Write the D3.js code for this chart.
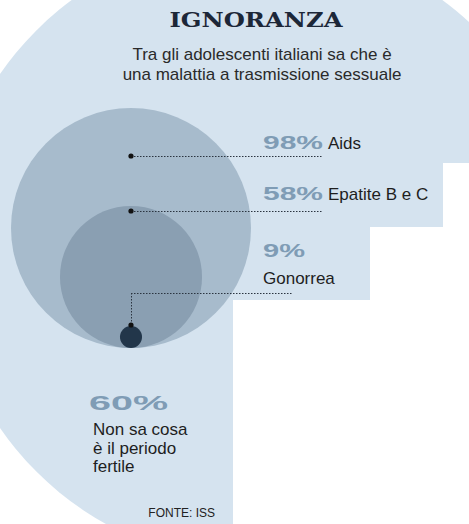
<!DOCTYPE html>
<html>
<head>
<meta charset="utf-8">
<script src="https://cdn.jsdelivr.net/npm/d3@7"></script>
<style>
  html, body { margin: 0; padding: 0; background: #fff; }
  svg { display: block; }
</style>
</head>
<body>
<div id="chart"></div>
<script>
const title = "IGNORANZA"
const subtitle = ["Tra gli adolescenti italiani sa che è", "una malattia a trasmissione sessuale"]
const diseases = ["Aids", "Epatite B e C", "Gonorrea"]
const shares = [98, 58, 9]
const fertileShare = 60
const fertileLabel = ["Non sa cosa", "è il periodo", "fertile"]
const source = "FONTE: ISS"

const width = 469, height = 524
const cx = 131, base = 348

const svg = d3.select("#chart").append("svg")
    .attr("width", width)
    .attr("height", height)

// pale backdrop, cut by the white label boxes on the right
svg.append("circle")
    .attr("cx", 257).attr("cy", 251).attr("r", 312)
    .attr("fill", "#d5e3ef")
svg.append("path")
    .attr("d", "M469,163 H443 V227 H370 V300 H233 V524 H469 Z")
    .attr("fill", "#fff")

// radius proportional to the share
const r = d3.scaleLinear().domain([0, d3.max(shares)]).range([0, 120])
const fills = ["#a7bbcc", "#8a9fb2", "#22364a"]

svg.selectAll("circle.share")
    .data(shares)
    .join("circle")
    .attr("class", "share")
    .attr("cx", cx)
    .attr("cy", d => base - r(d))
    .attr("r", d => r(d))
    .attr("fill", (d, i) => fills[i])

// leader anchors (layout)
const dotY = [156, 211, 325]
const lineY = [156, 211, 293]
const lineEnd = [322, 322, 292]

const leaders = svg.append("g")
    .attr("stroke", "#2b3440")
    .attr("stroke-width", 1)
    .attr("stroke-dasharray", "1.5,1.5")
leaders.selectAll("line.h")
    .data(diseases)
    .join("line")
    .attr("class", "h")
    .attr("x1", cx).attr("x2", (d, i) => lineEnd[i])
    .attr("y1", (d, i) => lineY[i] + 0.5).attr("y2", (d, i) => lineY[i] + 0.5)
leaders.append("line")
    .attr("x1", cx + 0.5).attr("x2", cx + 0.5)
    .attr("y1", lineY[2]).attr("y2", dotY[2])

svg.selectAll("circle.dot")
    .data(diseases)
    .join("circle")
    .attr("class", "dot")
    .attr("cx", cx)
    .attr("cy", (d, i) => dotY[i])
    .attr("r", 2.6)
    .attr("fill", "#111")

// title + subtitle
svg.append("text")
    .attr("x", 256).attr("y", 27)
    .attr("text-anchor", "middle")
    .attr("font-family", "DejaVu Serif")
    .attr("font-weight", "bold")
    .attr("font-size", 20)
    .attr("textLength", 173)
    .attr("lengthAdjust", "spacingAndGlyphs")
    .attr("fill", "#1c2738")
    .text(title)

svg.selectAll("text.sub")
    .data(subtitle)
    .join("text")
    .attr("class", "sub")
    .attr("x", 262)
    .attr("y", (d, i) => 60 + i * 20)
    .attr("text-anchor", "middle")
    .attr("font-family", "Liberation Sans, Arial, sans-serif")
    .attr("font-size", 17)
    .attr("fill", "#2a2a2a")
    .text(d => d)

// labels
const pctStyle = sel => sel
    .attr("font-family", "Liberation Sans, Arial, sans-serif")
    .attr("font-weight", "bold")
    .attr("fill", "#7f9cb5")
    .attr("lengthAdjust", "spacingAndGlyphs")

const pctY = [149, 200, 257]
svg.selectAll("text.pct")
    .data(shares)
    .join("text")
    .attr("class", "pct")
    .attr("x", 263)
    .attr("y", (d, i) => pctY[i])
    .attr("font-size", 19)
    .attr("textLength", d => d < 10 ? 42 : 60)
    .call(pctStyle)
    .text(d => d + "%")

const nameX = [328, 328, 263], nameY = [149, 200, 284]
svg.selectAll("text.name")
    .data(diseases)
    .join("text")
    .attr("class", "name")
    .attr("x", (d, i) => nameX[i])
    .attr("y", (d, i) => nameY[i])
    .attr("font-family", "Liberation Sans, Arial, sans-serif")
    .attr("font-size", 17)
    .attr("fill", "#1e1e1e")
    .text(d => d)

svg.append("text")
    .attr("x", 89).attr("y", 410)
    .attr("font-size", 21)
    .attr("textLength", 79)
    .call(pctStyle)
    .text(fertileShare + "%")

svg.selectAll("text.fert")
    .data(fertileLabel)
    .join("text")
    .attr("class", "fert")
    .attr("x", 93)
    .attr("y", (d, i) => 435 + i * 18.5)
    .attr("font-family", "Liberation Sans, Arial, sans-serif")
    .attr("font-size", 17)
    .attr("fill", "#1e1e1e")
    .text(d => d)

svg.append("text")
    .attr("x", 215).attr("y", 517)
    .attr("text-anchor", "end")
    .attr("font-family", "Liberation Sans Narrow, Liberation Sans, Arial, sans-serif")
    .attr("font-size", 12)
    .attr("fill", "#222")
    .text(source)
</script>
</body>
</html>
